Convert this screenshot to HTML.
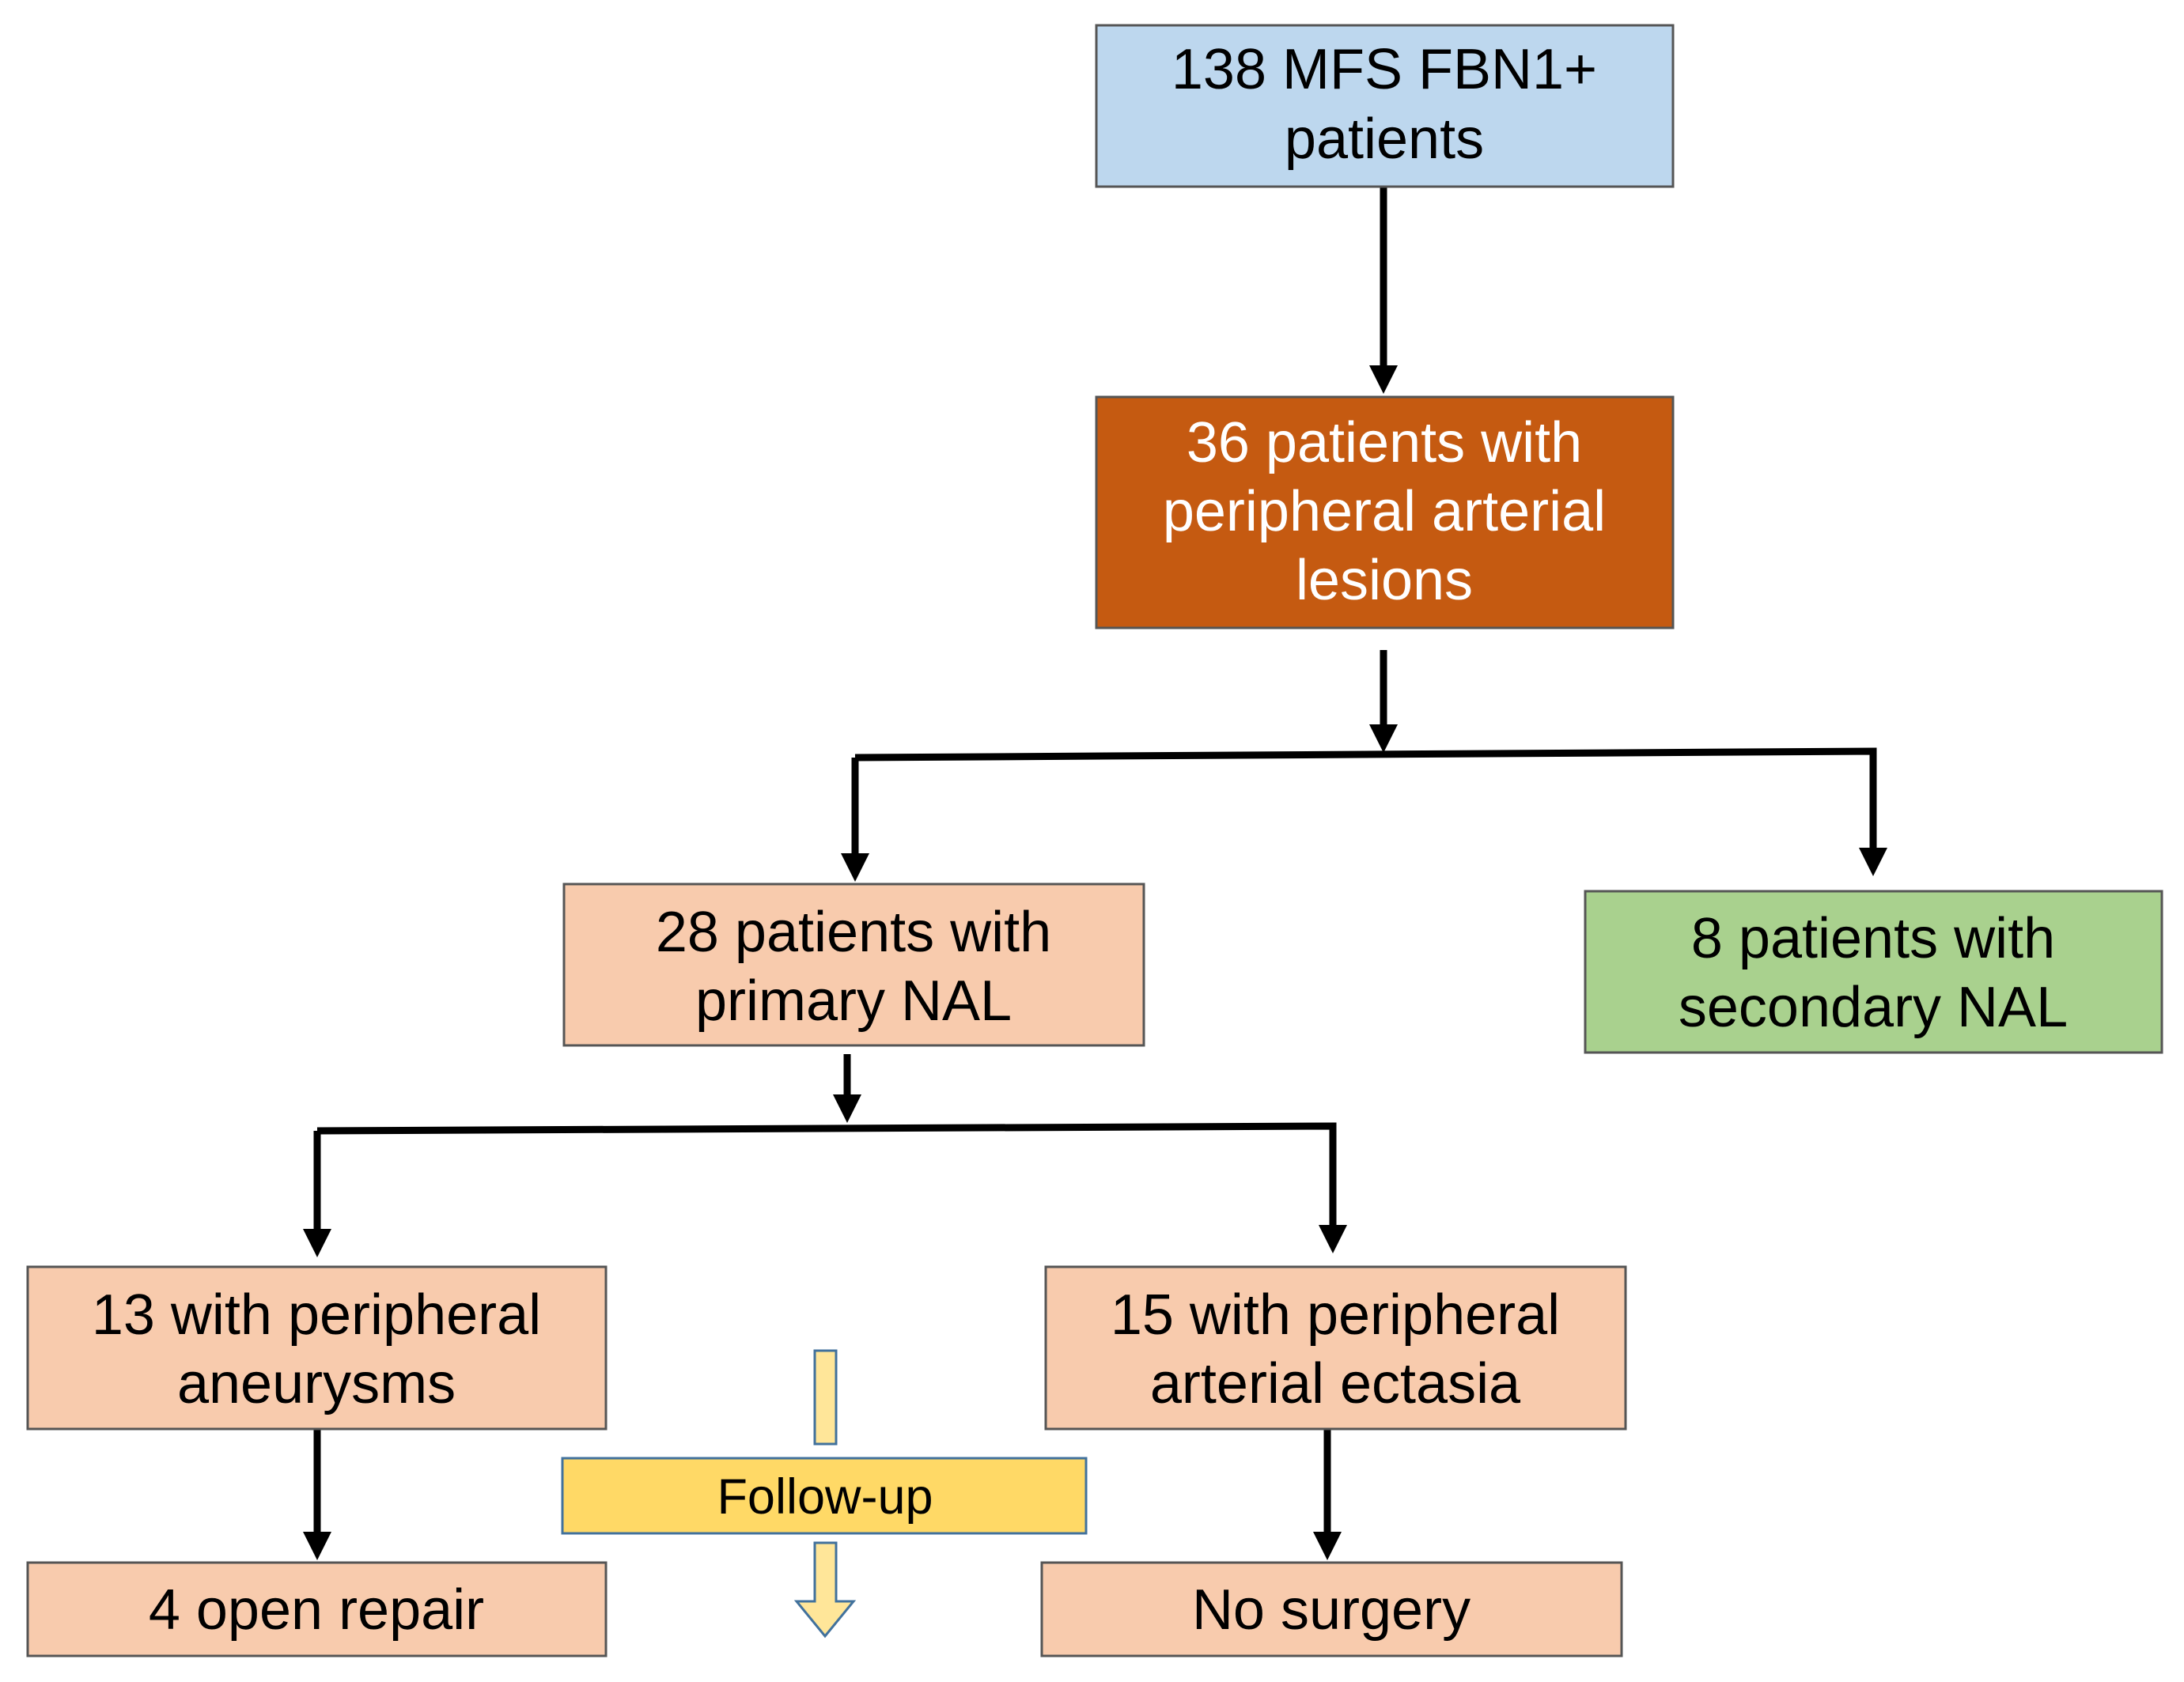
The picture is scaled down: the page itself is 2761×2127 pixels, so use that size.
<!DOCTYPE html>
<html><head><meta charset="utf-8"><style>html,body{margin:0;padding:0;background:#fff}svg{display:block}</style></head>
<body>
<svg width="2761" height="2127" viewBox="0 0 2761 2127" xmlns="http://www.w3.org/2000/svg" font-family="Liberation Sans, sans-serif">
<defs>
<marker id="ah" markerWidth="4" markerHeight="4" refX="2" refY="2" orient="auto" markerUnits="strokeWidth">
<path d="M0,0 L4,2 L0,4 z" fill="#000"/></marker>
</defs>
<g stroke="#000" stroke-width="9" fill="none">
<line x1="1749" y1="236" x2="1749" y2="480" marker-end="url(#ah)"/>
<line x1="1749" y1="822" x2="1749" y2="934" marker-end="url(#ah)"/>
<polyline points="1081,958 2368,950 2368,1090" marker-end="url(#ah)"/>
<line x1="1081" y1="958" x2="1081" y2="1097" marker-end="url(#ah)"/>
<line x1="1071" y1="1333" x2="1071" y2="1402" marker-end="url(#ah)"/>
<polyline points="401,1430 1685,1424 1685,1567" marker-end="url(#ah)"/>
<line x1="401" y1="1430" x2="401" y2="1572" marker-end="url(#ah)"/>
<line x1="401" y1="1807" x2="401" y2="1955" marker-end="url(#ah)"/>
<line x1="1678" y1="1807" x2="1678" y2="1955" marker-end="url(#ah)"/>
</g>
<g stroke="#555" stroke-width="3">
<rect x="1386" y="32" width="729" height="204" fill="#bdd7ee"/>
<rect x="1386" y="502" width="729" height="292" fill="#c55a11"/>
<rect x="713" y="1118" width="733" height="204" fill="#f8cbad"/>
<rect x="2004" y="1127" width="729" height="204" fill="#a9d18e"/>
<rect x="35" y="1602" width="731" height="205" fill="#f8cbad"/>
<rect x="1322" y="1602" width="733" height="205" fill="#f8cbad"/>
<rect x="35" y="1976" width="731" height="118" fill="#f8cbad"/>
<rect x="1317" y="1976" width="733" height="118" fill="#f8cbad"/>
</g>
<g stroke="#41719c" stroke-width="3" fill="#ffe699">
<rect x="711" y="1844" width="662" height="95" fill="#ffd966"/>
<rect x="1030" y="1708" width="27" height="118"/>
<path d="M1030,1951 H1057 V2025 H1079 L1043,2069 L1007,2025 H1030 Z"/>
</g>
<g font-size="72" text-anchor="middle" fill="#000">
<text x="1750" y="112">138 MFS FBN1+</text>
<text x="1750" y="200">patients</text>
<text x="1750" y="584" fill="#fff">36 patients with</text>
<text x="1750" y="671" fill="#fff">peripheral arterial</text>
<text x="1750" y="758" fill="#fff">lesions</text>
<text x="1079" y="1203">28 patients with</text>
<text x="1079" y="1290">primary NAL</text>
<text x="2368" y="1211">8 patients with</text>
<text x="2368" y="1298">secondary NAL</text>
<text x="400" y="1687">13 with peripheral</text>
<text x="400" y="1774">aneurysms</text>
<text x="1688" y="1687">15 with peripheral</text>
<text x="1688" y="1774">arterial ectasia</text>
<text x="400" y="2060">4 open repair</text>
<text x="1683" y="2060">No surgery</text>
<text x="1043" y="1914" font-size="63">Follow-up</text>
</g>
</svg>
</body></html>
